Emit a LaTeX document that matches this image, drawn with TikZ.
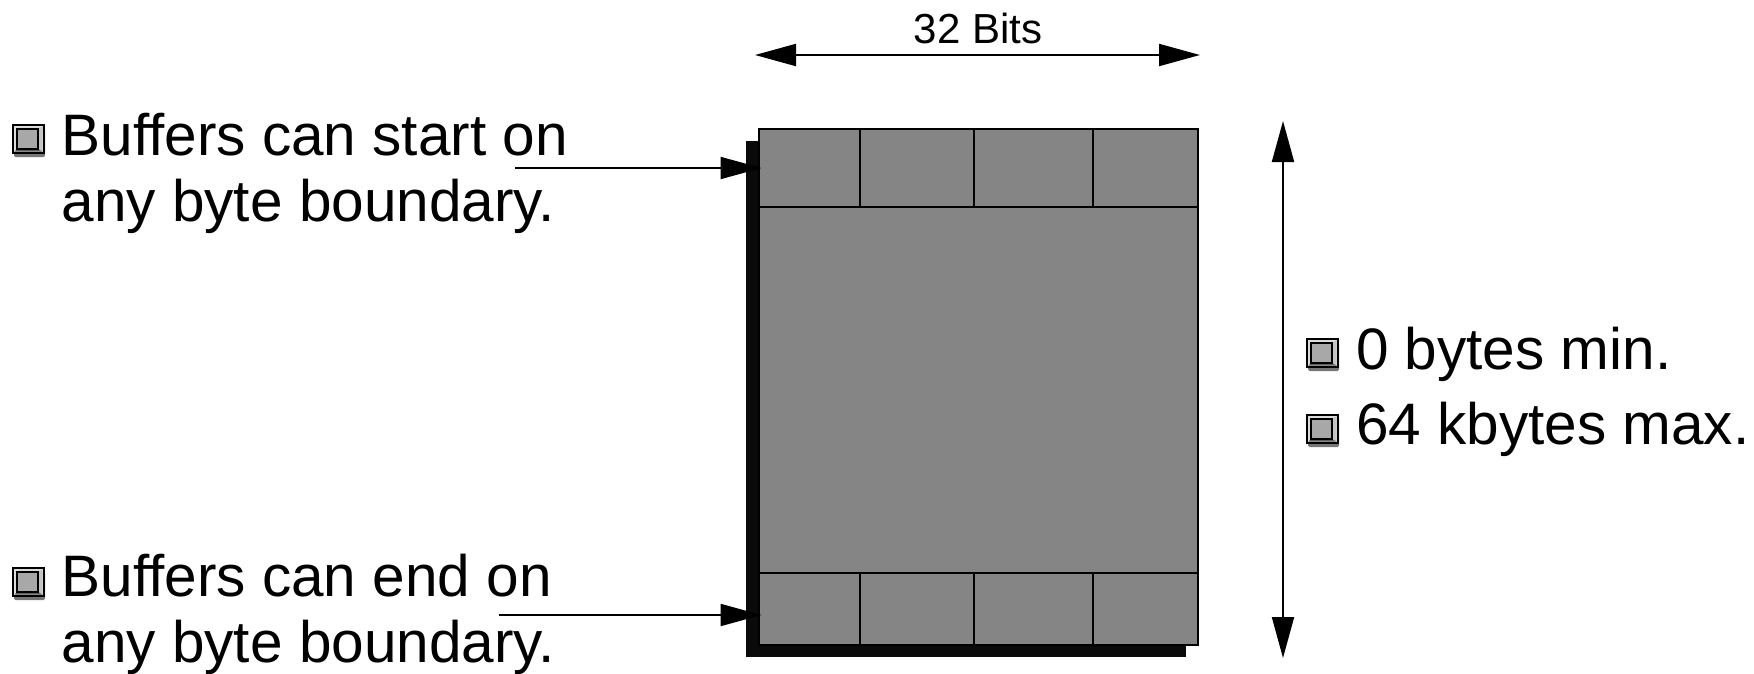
\documentclass[tikz,border=0pt]{standalone}
\usepackage{fontspec}
\setmainfont{Liberation Sans}
\usetikzlibrary{arrows.meta}

\definecolor{cellgrey}{HTML}{858585}
\definecolor{shadowblack}{HTML}{0A0A0A}
\definecolor{iconlight}{HTML}{DCDCDC}
\definecolor{iconface}{HTML}{A8A8A8}
\definecolor{iconside}{HTML}{C4C4C4}
\definecolor{icondark}{HTML}{5E5E5E}
\definecolor{iconbase}{HTML}{767676}

\tikzset{
  bigtext/.style={font=\fontsize{58.5}{66}\selectfont, anchor=base west, inner sep=0pt, outer sep=0pt},
  smalltext/.style={font=\fontsize{42}{48}\selectfont, anchor=base, inner sep=0pt},
  cellline/.style={draw=black, line width=2pt},
  ptr/.style={line width=2pt, -{Triangle[length=41pt,width=22pt]}},
  dimline/.style={line width=2pt, {Triangle[length=41pt,width=22pt]}-{Triangle[length=41pt,width=22pt]}},
  bulleticon/.pic={
    \fill[iconbase, rounded corners=1.5pt] (1,3) rectangle (32,32);
    \filldraw[fill=iconlight, draw=black, line width=1.5pt] (0,0) rectangle (31,28);
    \fill[iconside] (25,4) -- (29.5,1.5) -- (29.5,26.5) -- (25,24) -- cycle;
    \fill[icondark] (4,24) -- (25,24) -- (29.5,26.5) -- (1.5,26.5) -- cycle;
    \filldraw[fill=iconface, draw=black, line width=1.2pt] (4,4) rectangle (25,24);
  }
}

\begin{document}
\begin{tikzpicture}[x=1pt, y=-1pt]
  \useasboundingbox (0,0) rectangle (1754,673);

  % drop shadow behind the buffer
  \fill[shadowblack] (746,141) rectangle (1186,657);

  % the buffer block
  \node[draw=black, line width=2pt, fill=cellgrey, outer sep=0pt, inner sep=0pt,
        minimum width=439pt, minimum height=516pt] (buf) at (978.5,387) {};

  % first and last rows of byte cells
  \draw[cellline] (759,207) -- (1198,207);
  \draw[cellline] (759,572.5) -- (1198,572.5);
  \foreach \cx in {860,974,1093} {
    \draw[cellline] (\cx,129) -- (\cx,207);
    \draw[cellline] (\cx,572.5) -- (\cx,645);
  }

  % width dimension
  \coordinate (wl) at (755,55);
  \coordinate (wr) at (1200,55);
  \draw[dimline] (wl) -- (wr);
  \node[smalltext] (bitslabel) at (978,43.5) {32 Bits};

  % length dimension
  \coordinate (ht) at (1283,121);
  \coordinate (hb) at (1283,658);
  \draw[dimline] (ht) -- (hb);

  % left notes
  \pic at (13,125) {bulleticon};
  \node[bigtext] (startA) at (61.7,155) {Buffers can start on};
  \node[bigtext] (startB) at (61.7,221.5) {any byte boundary.};

  \pic at (13,568) {bulleticon};
  \node[bigtext] (endA) at (61.7,596) {Buffers can end on};
  \node[bigtext] (endB) at (61.7,662) {any byte boundary.};

  % pointers to the first and last cells
  \coordinate (sp) at (515,168);
  \coordinate (ep) at (499,615);
  \draw[ptr, shorten >=-2.5pt] (sp) -- (sp -| buf.west);
  \draw[ptr, shorten >=-2.5pt] (ep) -- (ep -| buf.west);

  % size limits
  \pic at (1307,339) {bulleticon};
  \node[bigtext] (minsize) at (1356,369.5) {0 bytes min.};
  \pic at (1307,415) {bulleticon};
  \node[bigtext] (maxsize) at (1356,444) {64 kbytes max.};
\end{tikzpicture}
\end{document}
